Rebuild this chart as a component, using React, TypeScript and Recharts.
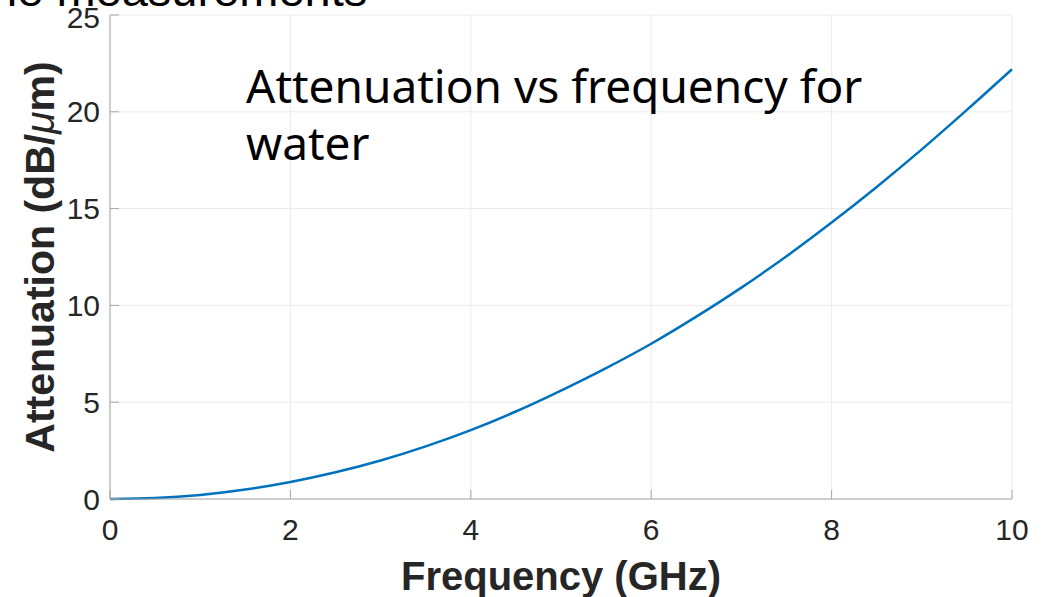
import React from 'react';
import {
  CartesianGrid,
  Line,
  LineChart,
  XAxis,
  YAxis,
} from 'recharts';

const frequency = [0, 0.5, 1, 1.5, 2, 2.5, 3, 3.5, 4, 4.5, 5, 5.5, 6, 6.5, 7, 7.5, 8, 8.5, 9, 9.5, 10];
const attenuation = [0, 0.05, 0.21, 0.49, 0.88, 1.38, 1.99, 2.72, 3.56, 4.52, 5.6, 6.76, 8.02, 9.42, 10.92, 12.54, 14.28, 16.12, 18.06, 20.1, 22.2];
const xTicks = [0, 2, 4, 6, 8, 10];
const yTicks = [0, 5, 10, 15, 20, 25];

const data = frequency.map((f, i) => ({ f, a: attenuation[i] }));

const axisColor = '#a6a6a6';
const font = 'Liberation Sans, Arial, sans-serif';
const tickText = { fill: '#262626', fontSize: 30, fontFamily: font };

const XLabel = ({ viewBox }: any) => (
  <text
    x={viewBox.x + viewBox.width / 2}
    y={viewBox.y + 91}
    textAnchor="middle"
    fill="#262626"
    fontSize={40}
    fontWeight="bold"
    fontFamily={font}
  >
    Frequency (GHz)
  </text>
);

const YLabel = ({ viewBox }: any) => {
  const cx = viewBox.x + 4;
  const cy = viewBox.y + viewBox.height / 2;
  return (
    <text
      x={cx}
      y={cy}
      transform={`rotate(-90 ${cx} ${cy})`}
      textAnchor="middle"
      fill="#262626"
      fontSize={41}
      fontWeight="bold"
      fontFamily={font}
    >
      Attenuation (dB/<tspan fontStyle="italic" fontWeight="normal">μ</tspan>m)
    </text>
  );
};

export default function App() {
  return (
    <div style={{ position: 'absolute', left: 0, top: 0, width: 1053, height: 597, overflow: 'hidden', background: '#fff' }}>
      <div
        style={{
          position: 'absolute',
          left: -22,
          top: -34,
          fontSize: 47,
          lineHeight: '47px',
          fontFamily: font,
          color: '#000',
          whiteSpace: 'nowrap',
        }}
      >
        the measurements
      </div>
      <LineChart
        width={1053}
        height={597}
        data={data}
        margin={{ top: 15, right: 41, left: 50, bottom: 0 }}
      >
        <CartesianGrid stroke="#ebebeb" strokeWidth={1} />
        <XAxis
          dataKey="f"
          type="number"
          domain={[0, 10]}
          ticks={xTicks}
          tickSize={-9}
          tickMargin={29}
          stroke={axisColor}
          tick={tickText}
          height={98}
          label={<XLabel />}
        />
        <XAxis
          xAxisId="top"
          dataKey="f"
          type="number"
          orientation="top"
          domain={[0, 10]}
          ticks={xTicks}
          tickSize={-9}
          stroke={axisColor}
          tick={() => <g />}
          height={0}
        />
        <YAxis
          type="number"
          domain={[0, 25]}
          ticks={yTicks}
          tickSize={-9}
          tickMargin={19}
          stroke={axisColor}
          tick={tickText}
          width={60}
          label={<YLabel />}
        />
        <YAxis
          yAxisId="right"
          type="number"
          orientation="right"
          domain={[0, 25]}
          ticks={yTicks}
          tickSize={-9}
          stroke={axisColor}
          tick={() => <g />}
          width={0}
        />
        <Line
          dataKey="a"
          type="monotone"
          stroke="#0072BD"
          strokeWidth={2.5}
          dot={false}
          isAnimationActive={false}
        />
      </LineChart>
      <div
        style={{
          position: 'absolute',
          left: 246,
          top: 57,
          fontSize: 46,
          lineHeight: '57px',
          fontFamily: 'Noto Sans, sans-serif',
          color: '#000',
          width: 700,
        }}
      >
        Attenuation vs frequency for
        <br />
        water
      </div>
    </div>
  );
}
